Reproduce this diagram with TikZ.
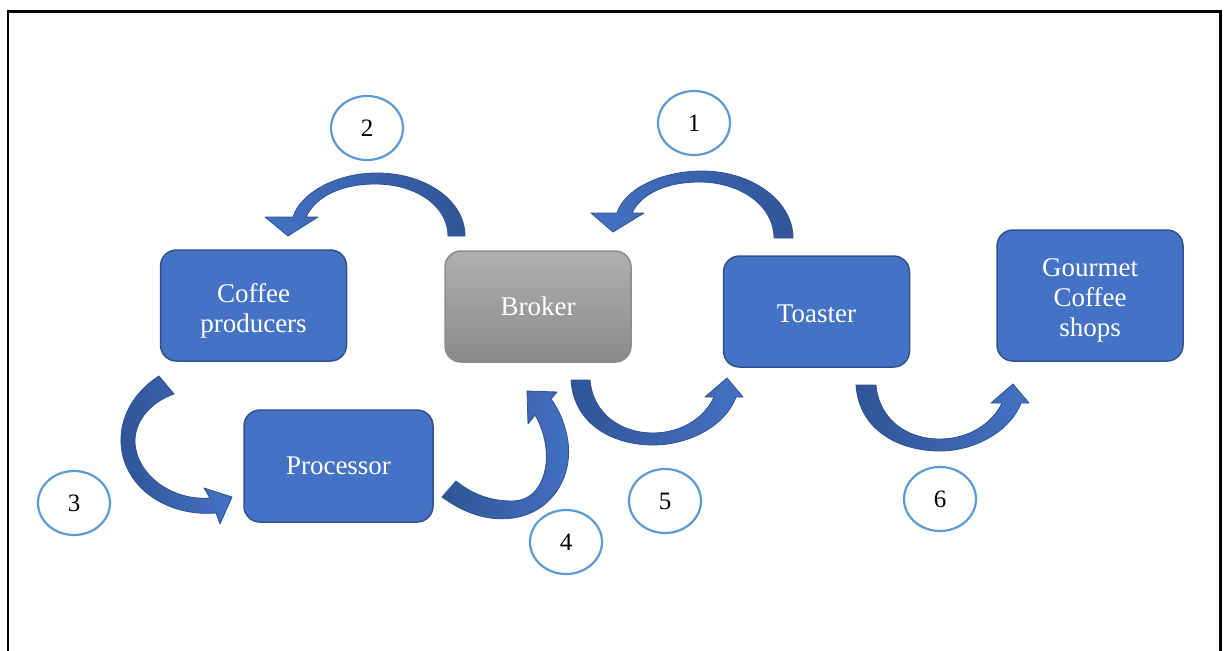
\documentclass[tikz,border=0pt]{standalone}
\usepackage{fontspec}
\setmainfont{Liberation Serif}
\usetikzlibrary{shapes.geometric}
\definecolor{boxblue}{HTML}{4472C4}
\definecolor{boxedge}{HTML}{2F528F}
\definecolor{ringblue}{HTML}{5B9BD5}
\definecolor{arrowdark}{HTML}{2F5597}
\definecolor{arrowlight}{HTML}{4472C4}
\definecolor{greytop}{HTML}{B0B0B0}
\definecolor{greybot}{HTML}{8A8A8A}
\definecolor{greyedge}{HTML}{8C8C8C}

\begin{document}
\begin{tikzpicture}[x=1pt,y=-1pt,
  stagetext/.style={text=white, align=center, inner sep=0pt,
    font=\fontsize{27}{30}\selectfont},
  stage/.style={rectangle, rounded corners=16pt, draw=boxedge, line width=1.5pt,
    fill=boxblue, minimum width=186pt, minimum height=111pt,
    inner sep=0pt, stagetext},
  brokerbox/.style={stage, draw=greyedge, top color=greytop, bottom color=greybot},
  stepnum/.style={ellipse, draw=ringblue, line width=2.2pt, fill=white,
    minimum width=72pt, minimum height=64pt, inner sep=0pt,
    font=\fontsize{25}{28}\selectfont},
  bendarrow/.style={draw=boxedge, line width=0.8pt, line join=round},
]
\useasboundingbox (0,0) rectangle (1227,651);
\fill[white] (0,0) rectangle (1227,651);
% open frame around the chart
\draw[line width=2.5pt] (8,651) -- (8,11.3) -- (1220.7,11.3) -- (1220.7,651);

% supply-chain stages (two- and three-line captions sit a little low)
\node[stage, label={[stagetext, yshift=-5pt]center:{Coffee\\producers}}]
  (producers) at (253.5,305.5) {};
\node[brokerbox] (broker) at (538,306.5) {Broker};
\node[stage, label={[stagetext, yshift=-2pt]center:Toaster}]
  (toaster) at (816.5,311.5) {};
\node[stage, minimum height=131pt, label={[stagetext, yshift=-5pt]center:{Gourmet\\Coffee\\shops}}]
  (shops) at (1090,295.5) {};
\node[stage, minimum width=189pt, minimum height=112pt] (processor) at (338.5,466) {Processor};

% curved block arrows
% 2: broker -> producers
\path[bendarrow, left color=arrowlight, right color=arrowdark]
  (465,236) .. controls (465,200) and (425,173) .. (377,173)
  .. controls (335,173) and (300,194) .. (293,217)
  -- (265,217) -- (288,236) -- (318,217) -- (306,217)
  .. controls (316,196) and (342,184) .. (375,184)
  .. controls (416,184) and (448,206) .. (448,236) -- cycle;
% 1: toaster -> broker
\path[bendarrow, left color=arrowlight, right color=arrowdark]
  (793,238) .. controls (793,201) and (752,171) .. (702,171)
  .. controls (660,171) and (624,190) .. (617,213)
  -- (591,213) -- (613,232) -- (644,213) -- (632,213)
  .. controls (641,194) and (666,182) .. (699,182)
  .. controls (741,182) and (774,206) .. (774,238) -- cycle;
% 3: producers -> processor
\path[bendarrow, left color=arrowdark, right color=arrowlight]
  (159,376) .. controls (131,394) and (120,420) .. (121,443)
  .. controls (123,486) and (165,517) .. (216,513)
  -- (220,524) -- (232,497) -- (204,488) -- (210,498)
  .. controls (172,501) and (137,475) .. (135,443)
  .. controls (134,421) and (151,402) .. (174,394) -- cycle;
% 4: processor -> broker
\path[bendarrow, left color=arrowdark, right color=arrowlight]
  (442,497) .. controls (468,516) and (492,521) .. (513,518)
  .. controls (555,512) and (578,470) .. (565,428)
  .. controls (562,417) and (557,407) .. (551,399)
  -- (557,392) -- (527,391) -- (528,424) -- (535,415)
  .. controls (543,428) and (548,448) .. (546,464)
  .. controls (543,488) and (530,501) .. (512,501)
  .. controls (490,501) and (472,494) .. (456,481) -- cycle;
% 5: broker -> toaster
\path[bendarrow, left color=arrowdark, right color=arrowlight]
  (571,380) .. controls (574,426) and (615,445) .. (653,445)
  .. controls (690,445) and (726,425) .. (736,397)
  -- (743,397) -- (727,378) -- (705,397) -- (714,397)
  .. controls (704,419) and (680,433) .. (653,433)
  .. controls (621,433) and (593,414) .. (590,380) -- cycle;
% 6: toaster -> shops
\path[bendarrow, left color=arrowdark, right color=arrowlight]
  (856,385) .. controls (859,431) and (900,451) .. (940,451)
  .. controls (976,451) and (1011,430) .. (1021,403)
  -- (1029,403) -- (1013,384) -- (991,403) -- (1002,403)
  .. controls (992,424) and (968,439) .. (940,439)
  .. controls (906,439) and (879,419) .. (876,385) -- cycle;

% step numbers
\node[stepnum] (n1) at (694,123) {1};
\node[stepnum] (n2) at (367,128) {2};
\node[stepnum] (n3) at (74,503) {3};
\node[stepnum] (n4) at (566,542) {4};
\node[stepnum] (n5) at (665,501) {5};
\node[stepnum] (n6) at (940,499) {6};
\end{tikzpicture}
\end{document}
